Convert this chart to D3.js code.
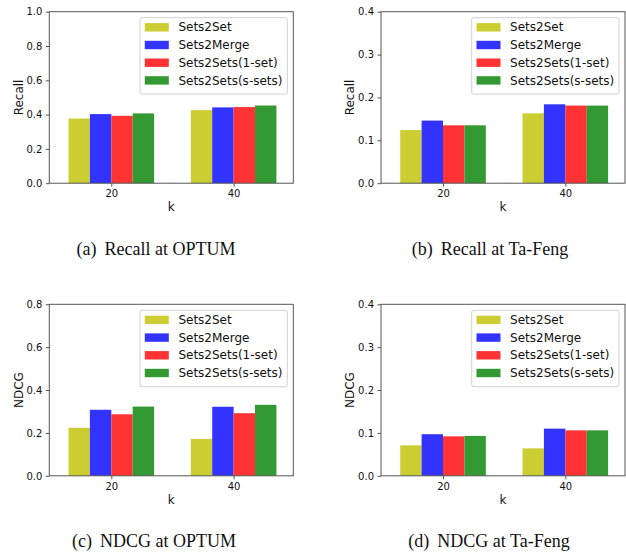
<!DOCTYPE html>
<html>
<head>
<meta charset="utf-8">
<script src="https://cdn.jsdelivr.net/npm/d3@7"></script>
<style>
  body { margin: 0; background: #fff; }
  svg { display: block; }
</style>
</head>
<body>
<script>
// data
var kValues = ["20", "40"];
var methods = ["Sets2Set", "Sets2Merge", "Sets2Sets(1-set)", "Sets2Sets(s-sets)"];
var methodColors = ["#cccc33", "#3333ff", "#ff3333", "#339933"];

// one row per k, one value per method
var recallOptum  = [[0.377, 0.403, 0.393, 0.407], [0.426, 0.442, 0.444, 0.453]];
var recallTaFeng = [[0.124, 0.146, 0.135, 0.135], [0.163, 0.184, 0.181, 0.181]];
var ndcgOptum    = [[0.224, 0.308, 0.287, 0.323], [0.172, 0.322, 0.292, 0.331]];
var ndcgTaFeng   = [[0.071, 0.097, 0.092, 0.093], [0.064, 0.110, 0.106, 0.106]];

var ticksOne   = [0, 0.2, 0.4, 0.6, 0.8, 1.0];
var ticksPoint8 = [0, 0.2, 0.4, 0.6, 0.8];
var ticksPoint4 = [0, 0.1, 0.2, 0.3, 0.4];

var W = 626, H = 552;
var plotW = 244, plotH = 171.5;
var barWidth = 0.175;

var panels = [
  { values: recallOptum,  ticks: ticksOne,    ylabel: "Recall", tag: "(a)", caption: "Recall at OPTUM",  left: 49.3, top: 11.7, capX: 156, capY: 254.5 },
  { values: recallTaFeng, ticks: ticksPoint4, ylabel: "Recall", tag: "(b)", caption: "Recall at Ta-Feng", left: 381,  top: 11.7, capX: 490, capY: 254.5 },
  { values: ndcgOptum,    ticks: ticksPoint8, ylabel: "NDCG",   tag: "(c)", caption: "NDCG at OPTUM",    left: 49.3, top: 304.3, capX: 154, capY: 547 },
  { values: ndcgTaFeng,   ticks: ticksPoint4, ylabel: "NDCG",   tag: "(d)", caption: "NDCG at Ta-Feng",  left: 381,  top: 304.3, capX: 489, capY: 547 }
];

var svg = d3.select("body")
  .append("svg")
  .attr("width", W)
  .attr("height", H);

panels.forEach(drawPanel);

function drawPanel(p) {
  var g = svg.append("g").attr("transform", "translate(" + p.left + "," + p.top + ")");

  var x = d3.scaleLinear().domain([-0.507, 1.488]).range([0, plotW]);
  var y = d3.scaleLinear().domain([0, d3.max(p.ticks)]).range([plotH, 0]);

  // bars
  kValues.forEach(function(k, i) {
    g.selectAll(".bar" + i)
      .data(p.values[i])
      .enter()
      .append("rect")
      .attr("x", function(d, j) { return x(i + (j - 2) * barWidth); })
      .attr("width", function(d, j) { return x(barWidth) - x(0); })
      .attr("y", function(d) { return y(d); })
      .attr("height", function(d) { return plotH - y(d); })
      .attr("fill", function(d, j) { return methodColors[j]; });
  });

  // y axis
  var yAxis = g.append("g")
    .call(d3.axisLeft(y).tickValues(p.ticks).tickSize(3.5).tickPadding(3.5).tickFormat(d3.format(".1f")));
  styleAxis(yAxis);

  // x axis
  var xAxis = g.append("g")
    .attr("transform", "translate(0," + plotH + ")")
    .call(d3.axisBottom(x).tickValues([0, 1]).tickSize(3.5).tickPadding(3.5)
      .tickFormat(function(d) { return kValues[d]; }));
  styleAxis(xAxis);

  // frame
  g.append("rect")
    .attr("width", plotW)
    .attr("height", plotH)
    .attr("fill", "none")
    .attr("stroke", "#555")
    .attr("stroke-width", 1);

  // axis labels
  g.append("text")
    .attr("transform", "translate(" + (-31) + "," + (plotH / 2) + ") rotate(-90)")
    .attr("text-anchor", "middle")
    .attr("dy", "0.35em")
    .attr("font-family", "DejaVu Sans")
    .attr("font-size", "12px")
    .attr("fill", "#111")
    .text(p.ylabel);

  g.append("text")
    .attr("x", plotW / 2)
    .attr("y", plotH + 28)
    .attr("text-anchor", "middle")
    .attr("font-family", "DejaVu Sans")
    .attr("font-size", "12px")
    .attr("fill", "#111")
    .text("k");

  drawLegend(g);

  // caption under the panel
  var cap = svg.append("text")
    .attr("x", p.capX)
    .attr("y", p.capY)
    .attr("text-anchor", "middle")
    .attr("font-family", "Liberation Serif")
    .attr("font-size", "18px")
    .attr("fill", "#111");
  cap.append("tspan").text(p.tag);
  cap.append("tspan").attr("dx", 8).text(p.caption);
}

function styleAxis(a) {
  a.select(".domain").remove();
  a.selectAll(".tick line").attr("stroke", "#555");
  a.selectAll(".tick text")
    .attr("font-family", "DejaVu Sans")
    .attr("font-size", "10px")
    .attr("fill", "#111");
}

function drawLegend(g) {
  var fs = 12, pad = 4.8, handleW = 24, handleH = 8.4, textPad = 9.6, rowH = 17.7;
  var leg = g.append("g");
  var texts = leg.selectAll("text")
    .data(methods)
    .enter()
    .append("text")
    .attr("font-family", "DejaVu Sans")
    .attr("font-size", fs + "px")
    .attr("fill", "#111")
    .attr("dy", "0.35em")
    .text(function(d) { return d; });
  var maxW = 0;
  texts.each(function() { maxW = Math.max(maxW, this.getComputedTextLength()); });

  var legW = pad + handleW + textPad + maxW + pad;
  var legH = pad * 2 + rowH * methods.length - 6 + 2;
  var lx = plotW - 6 - legW, ly = 6;

  leg.insert("rect", "text")
    .attr("x", lx).attr("y", ly)
    .attr("width", legW).attr("height", legH)
    .attr("rx", 2)
    .attr("fill", "#fff")
    .attr("fill-opacity", 0.8)
    .attr("stroke", "#d0d0d0")
    .attr("stroke-width", 1);

  leg.selectAll(".handle")
    .data(methods)
    .enter()
    .append("rect")
    .attr("class", "handle")
    .attr("x", lx + pad)
    .attr("y", function(d, i) { return ly + 9.6 + i * rowH - handleH / 2; })
    .attr("width", handleW)
    .attr("height", handleH)
    .attr("fill", function(d, i) { return methodColors[i]; });

  texts
    .attr("x", lx + pad + handleW + textPad)
    .attr("y", function(d, i) { return ly + 9.6 + i * rowH; });
}
</script>
</body>
</html>
